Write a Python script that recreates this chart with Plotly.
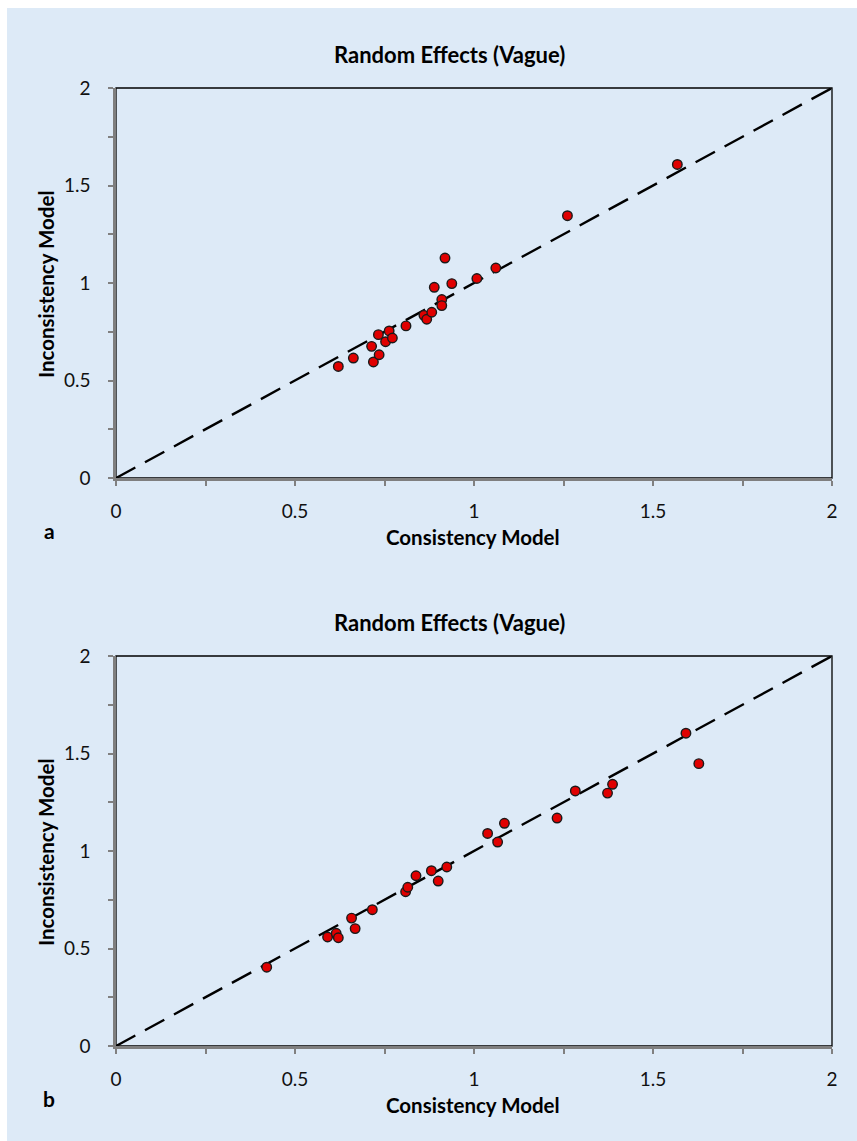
import plotly.graph_objects as go

# ---- data ----
cons_a = [0.621, 0.663, 0.719, 0.714, 0.735, 0.733, 0.753, 0.763, 0.772, 0.810, 0.860,
          0.868, 0.882, 0.889, 0.910, 0.910, 0.919, 0.938, 1.008, 1.061, 1.261, 1.568]
incons_a = [0.572, 0.615, 0.595, 0.675, 0.632, 0.735, 0.699, 0.754, 0.718, 0.780, 0.834,
            0.814, 0.850, 0.978, 0.915, 0.884, 1.128, 0.997, 1.023, 1.077, 1.345, 1.608]

cons_b = [0.421, 0.591, 0.615, 0.621, 0.658, 0.668, 0.716, 0.809, 0.815, 0.838, 0.881,
          0.900, 0.924, 1.038, 1.066, 1.085, 1.232, 1.283, 1.373, 1.387, 1.592, 1.628]
incons_b = [0.404, 0.559, 0.578, 0.555, 0.656, 0.602, 0.699, 0.791, 0.814, 0.873, 0.899,
            0.846, 0.918, 1.090, 1.046, 1.142, 1.169, 1.308, 1.297, 1.342, 1.604, 1.448]

identity = [0, 2]
tickvals = [0, 0.5, 1, 1.5, 2]
ticktext = ["0", "0.5", "1", "1.5", "2"]
title_text = "Random Effects (Vague)"
xlabel = "Consistency Model"
ylabel = "Inconsistency Model"
panel_labels = ["a", "b"]

# page is 857x1141; white edge of 7px on the left and 8px on top
OFF_X, OFF_Y = 7, 8
W, H = 857 - OFF_X, 1141 - OFF_Y
BG = "#DDEAF7"
FONT = "Lato, Open Sans, sans-serif"


def px_x(p):
    return (p - OFF_X) / W


def px_y(p):
    return 1 - (p - OFF_Y) / H


x_dom = [px_x(116), px_x(832)]
panels = [
    dict(top=88, bot=478, cx=cons_a, cy=incons_a, xa="x", ya="y", title_y=55, lab=panel_labels[0]),
    dict(top=656, bot=1046, cx=cons_b, cy=incons_b, xa="x2", ya="y2", title_y=622, lab=panel_labels[1]),
]

fig = go.Figure()
shapes = []
annotations = []

for i, p in enumerate(panels):
    fig.add_trace(go.Scatter(
        x=identity, y=identity, mode="lines", xaxis=p["xa"], yaxis=p["ya"],
        line=dict(color="black", width=2.4, dash="22px,11px"), hoverinfo="skip",
        showlegend=False))
    fig.add_trace(go.Scatter(
        x=p["cx"], y=p["cy"], mode="markers", xaxis=p["xa"], yaxis=p["ya"],
        marker=dict(size=9.5, color="#E00000", line=dict(color="#1a1a1a", width=1.4)),
        showlegend=False))

    ax_common = dict(
        range=[0, 2], tickvals=tickvals, ticktext=ticktext, ticks="outside",
        ticklen=5, tickwidth=1.5, tickcolor="#808080",
        showline=True, linecolor="#7f7f7f", linewidth=2.5,
        showgrid=False, zeroline=False, fixedrange=True, automargin=False,
        tickfont=dict(family=FONT, size=19, color="#111111"),
        minor=dict(dtick=0.25, tick0=0, ticks="outside", ticklen=5, tickwidth=1.5,
                   tickcolor="#808080", showgrid=False),
    )
    xname = "xaxis" if i == 0 else "xaxis2"
    yname = "yaxis" if i == 0 else "yaxis2"
    fig.update_layout({
        xname: dict(ax_common, domain=x_dom, anchor=p["ya"], ticklabelstandoff=9),
        yname: dict(ax_common, domain=[px_y(p["bot"]), px_y(p["top"])], anchor=p["xa"],
                    ticklabelstandoff=14),
    })

    # black frame (top/right)
    shapes.append(dict(type="rect", xref="paper", yref="paper",
                       x0=px_x(116), x1=px_x(832), y0=px_y(p["bot"]), y1=px_y(p["top"]),
                       line=dict(color="black", width=1.3), layer="below"))

    annotations.append(dict(text="<b>" + title_text + "</b>", x=px_x(449), y=px_y(p["title_y"]),
                            xref="paper", yref="paper", showarrow=False,
                            xanchor="center", yanchor="middle",
                            font=dict(family=FONT, size=22, color="black")))
    annotations.append(dict(text="<b>" + xlabel + "</b>", x=px_x(473), y=px_y(p["bot"] + 59),
                            xref="paper", yref="paper", showarrow=False,
                            xanchor="center", yanchor="middle",
                            font=dict(family=FONT, size=20.5, color="black")))
    annotations.append(dict(text="<b>" + ylabel + "</b>", x=px_x(46),
                            y=px_y((p["top"] + p["bot"]) / 2 + 2),
                            xref="paper", yref="paper", showarrow=False, textangle=-90,
                            xanchor="center", yanchor="middle",
                            font=dict(family=FONT, size=20.5, color="black")))
    annotations.append(dict(text="<b>" + p["lab"] + "</b>", x=px_x(49), y=px_y(p["bot"] + 52),
                            xref="paper", yref="paper", showarrow=False,
                            xanchor="center", yanchor="middle",
                            font=dict(family=FONT, size=21, color="black")))

fig.update_layout(
    template="none",
    width=W, height=H, autosize=False,
    margin=dict(l=0, r=0, t=0, b=0, pad=0, autoexpand=False),
    paper_bgcolor=BG, plot_bgcolor=BG,
    shapes=shapes, annotations=annotations,
    showlegend=False,
)

fig.write_html(
    "out.html",
    config={"displayModeBar": False},
    post_script="document.body.style.margin='%dpx 0 0 %dpx';document.body.style.overflow='hidden';"
    % (OFF_Y, OFF_X),
)
